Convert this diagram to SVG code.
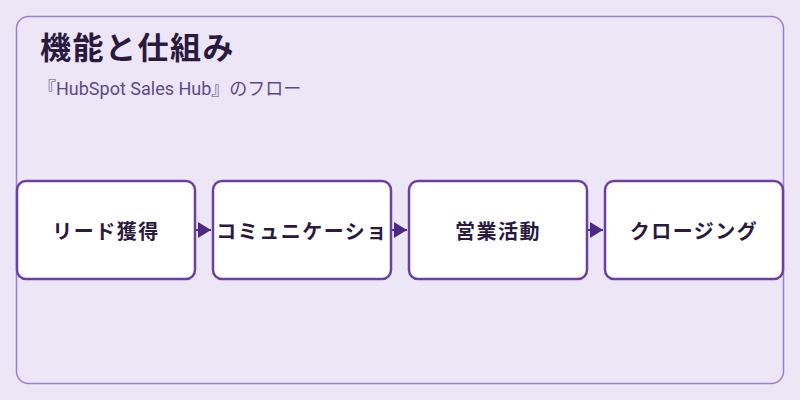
<svg xmlns="http://www.w3.org/2000/svg" width="800" height="400" viewBox="0 0 800 400">
<style>
.node rect{fill:#ffffff;stroke:#6b40a0;stroke-width:2.5}
.node text{font-family:"Noto Sans CJK JP","Noto Sans",sans-serif;font-weight:bold;font-size:20px;fill:#2a1a40;text-anchor:middle;dominant-baseline:central;letter-spacing:1.5px}
.conn line{stroke:#4b2a7f;stroke-width:2}
</style>
<defs>
<marker id="ah" markerWidth="13" markerHeight="16" refX="13" refY="8" orient="auto" markerUnits="userSpaceOnUse">
<path d="M0,0 L13,8 L0,16 Z" fill="#4b2a7f"/>
</marker>
</defs>
<rect width="800" height="400" fill="#ede6f6"/>
<rect x="16.5" y="16.5" width="767" height="367" rx="12" fill="none" stroke="#9b7fd0" stroke-width="1.5"/>
<text x="40" y="59" font-family="'Noto Sans CJK JP',sans-serif" font-weight="bold" font-size="31" fill="#2a1a40" letter-spacing="1.5">機能と仕組み</text>
<text x="38" y="95" font-family="Roboto,'Noto Sans CJK JP',sans-serif" font-size="18" fill="#5b4a8b">『HubSpot Sales Hub』のフロー</text>
<g id="connectors" class="conn">
<line x1="196" y1="230" x2="211" y2="230" marker-end="url(#ah)"/>
<line x1="392" y1="230" x2="407" y2="230" marker-end="url(#ah)"/>
<line x1="588" y1="230" x2="603" y2="230" marker-end="url(#ah)"/>
</g>
<g id="node1" class="node"><rect x="17" y="181" width="178" height="98" rx="9"/><text x="106" y="230">リード獲得</text></g>
<g id="node2" class="node"><rect x="213" y="181" width="178" height="98" rx="9"/><text x="302" y="230">コミュニケーショ</text></g>
<g id="node3" class="node"><rect x="409" y="181" width="178" height="98" rx="9"/><text x="498" y="230">営業活動</text></g>
<g id="node4" class="node"><rect x="605" y="181" width="178" height="98" rx="9"/><text x="694" y="230">クロージング</text></g>
</svg>
